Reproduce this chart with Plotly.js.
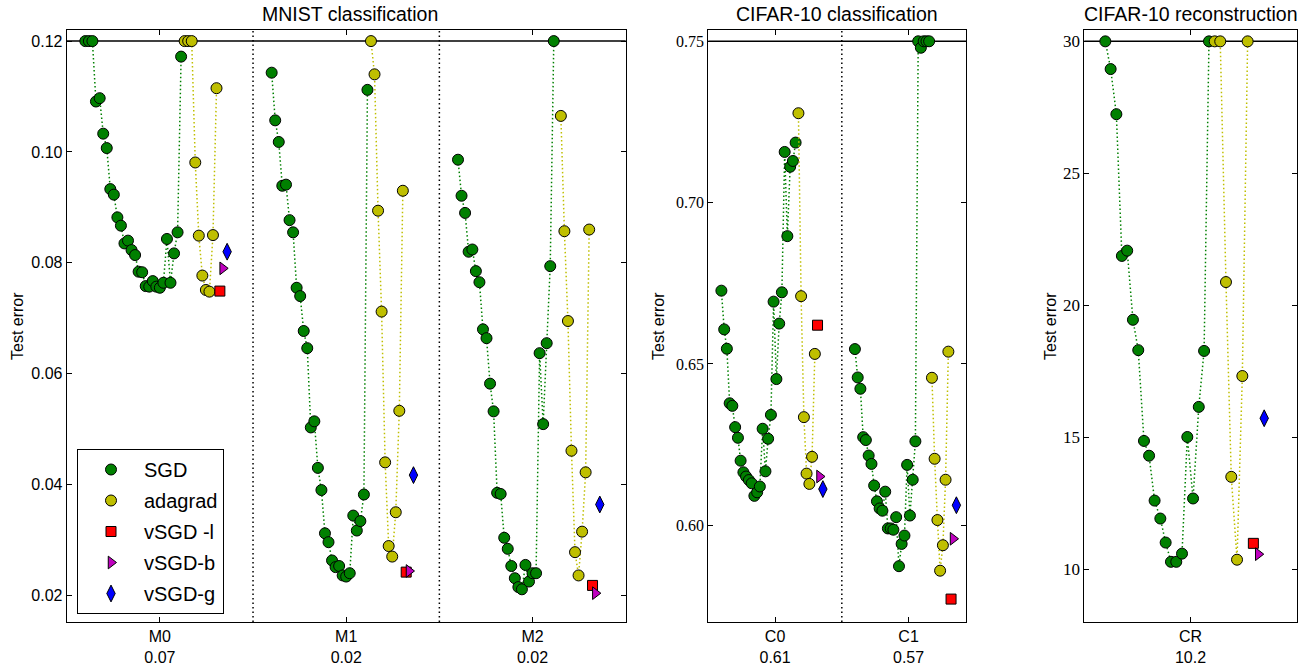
<!DOCTYPE html>
<html>
<head>
<meta charset="utf-8">
<script src="https://cdn.plot.ly/plotly-3.0.1.min.js"></script>
<style>html,body{margin:0;padding:0;background:#fff;}#chart{width:1315px;height:668px;}</style>
</head>
<body>
<div id="chart"></div>
<script>
// ---------------- DATA ----------------
// MNIST classification
const mnistGroups = ['M0', 'M1', 'M2'];
const mnistBest = ['0.07', '0.02', '0.02'];
const mnistSgdOffset = [-0.400, -0.381, -0.362, -0.343, -0.323, -0.304, -0.285, -0.266, -0.247, -0.228,
  -0.209, -0.190, -0.171, -0.152, -0.133, -0.114, -0.095, -0.076, -0.057, -0.038,
  -0.019, 0.000, 0.019, 0.038, 0.057, 0.076, 0.095, 0.114];
const mnistAdagradOffset = [0.133, 0.152, 0.171, 0.190, 0.209, 0.228, 0.247, 0.266, 0.285, 0.304];
const mnistVsgdOffset = [0.322, 0.337, 0.361];
const sgdM0 = [0.120, 0.120, 0.120, 0.1091, 0.1097, 0.1033, 0.1007, 0.0933, 0.0923, 0.0882,
  0.0867, 0.0835, 0.0840, 0.0823, 0.0814, 0.0784, 0.0783, 0.0758, 0.0757, 0.0767,
  0.0757, 0.0755, 0.0764, 0.0843, 0.0764, 0.0817, 0.0855, 0.1172];
const sgdM1 = [0.1143, 0.1057, 0.1018, 0.0939, 0.0941, 0.0877, 0.0855, 0.0755, 0.0740, 0.0677,
  0.0646, 0.0503, 0.0514, 0.0430, 0.0390, 0.0312, 0.0296, 0.0263, 0.0251, 0.0253,
  0.0236, 0.0234, 0.0240, 0.0344, 0.0317, 0.0334, 0.0382, 0.1112];
const sgdM2 = [0.0986, 0.0921, 0.0890, 0.0820, 0.0824, 0.0785, 0.0765, 0.0680, 0.0664, 0.0582,
  0.0532, 0.0385, 0.0383, 0.0304, 0.0284, 0.0253, 0.0231, 0.0215, 0.0211, 0.0255,
  0.0225, 0.0240, 0.0240, 0.0637, 0.0509, 0.0655, 0.0794, 0.120];
const adagradM0 = [0.120, 0.120, 0.120, 0.0981, 0.0849, 0.0777, 0.0751, 0.0748, 0.0850, 0.1115];
const adagradM1 = [0.120, 0.1140, 0.0894, 0.0712, 0.0440, 0.0289, 0.0270, 0.0350, 0.0533, 0.0930];
const adagradM2 = [null, 0.1065, 0.0857, 0.0695, 0.0461, 0.0278, 0.0236, 0.0315, 0.0422, 0.0860];
const vsgdL_M = [0.0749, 0.0242, 0.0218];
const vsgdB_M = [0.0790, 0.0244, 0.0204];
const vsgdG_M = [0.0820, 0.0417, 0.0364];

// CIFAR-10 classification
const cifarGroups = ['C0', 'C1'];
const cifarBest = ['0.61', '0.57'];
const cifarSgdOffset = [-0.402, -0.381, -0.361, -0.340, -0.320, -0.299, -0.278, -0.258, -0.237, -0.217,
  -0.196, -0.175, -0.155, -0.134, -0.114, -0.093, -0.072, -0.052, -0.031, -0.011,
  0.010, 0.031, 0.051, 0.072, 0.092, 0.113, 0.134, 0.154];
const cifarAdagradOffset = [0.175, 0.195, 0.216, 0.236, 0.257, 0.277, 0.298];
const cifarVsgdOffset = [0.318, 0.333, 0.358];
const sgdC0 = [0.6727, 0.6607, 0.6547, 0.6378, 0.6370, 0.6304, 0.6271, 0.6200, 0.6164, 0.6151,
  0.6140, 0.6130, 0.6091, 0.6102, 0.6120, 0.6299, 0.6167, 0.6268, 0.6342, 0.6693,
  0.6453, 0.6625, 0.6722, 0.7157, 0.6896, 0.7111, 0.7129, 0.7186];
const sgdC1 = [0.6546, 0.6458, 0.6423, 0.6273, 0.6264, 0.6216, 0.6190, 0.6123, 0.6074, 0.6052,
  0.6045, 0.6104, 0.5990, 0.5990, 0.5986, 0.6025, 0.5873, 0.5942, 0.5968, 0.6187,
  0.6030, 0.6141, 0.6260, 0.750, 0.748, 0.750, 0.750, 0.750];
const adagradC0 = [0.7277, 0.6710, 0.6335, 0.6160, 0.6128, 0.6212, 0.6531];
const adagradC1 = [0.6457, 0.6206, 0.6016, 0.5859, 0.5938, 0.6141, 0.6538];
const vsgdL_C = [0.6620, 0.5771];
const vsgdB_C = [0.6151, 0.5958];
const vsgdG_C = [0.6112, 0.6062];

// CIFAR-10 reconstruction
const reconGroups = ['CR'];
const reconBest = ['10.2'];
const reconSgdOffset = [-0.401, -0.376, -0.349, -0.323, -0.298, -0.271, -0.246, -0.219, -0.195, -0.169,
  -0.142, -0.117, -0.092, -0.067, -0.040, -0.015, 0.012, 0.039, 0.064, 0.087];
const reconAdagradOffset = [0.114, 0.140, 0.167, 0.192, 0.219, 0.244, 0.269];
const reconVsgdOffset = [0.296, 0.319, 0.347];
const sgdCR = [30, 28.95, 27.24, 21.87, 22.07, 19.45, 18.30, 14.86, 14.30, 12.60,
  11.92, 11.01, 10.28, 10.28, 10.59, 15.01, 12.68, 16.15, 18.27, 30];
const adagradCR = [30, 30, 20.88, 13.50, 10.36, 17.32, 30];
const vsgdL_R = [10.98];
const vsgdB_R = [10.57];
const vsgdG_R = [15.72];

const seriesNames = ['SGD', 'adagrad', 'vSGD -l', 'vSGD-b', 'vSGD-g'];

// ---------------- STYLE ----------------
const C_SGD = '#008000', C_ADA = '#bfbf00', C_L = '#ff0000', C_B = '#bf00bf', C_G = '#0000ff';
const DOT = '1.5px,2.5px';
const styles = {
  SGD: {color: C_SGD, symbol: 'circle', size: 11},
  adagrad: {color: C_ADA, symbol: 'circle', size: 11},
  L: {color: C_L, symbol: 'square', size: 10},
  B: {color: C_B, symbol: 'triangle-right', size: 11},
  G: {color: C_G, symbol: 'diamond-tall', size: 12}
};

const traces = [];
function lineSeries(xa, ya, g, offsets, values, st) {
  traces.push({
    type: 'scatter', mode: 'lines+markers', xaxis: xa, yaxis: ya,
    x: offsets.map(o => g + o), y: values, showlegend: false, cliponaxis: false,
    line: {color: st.color, width: 1.5, dash: DOT},
    marker: {color: st.color, symbol: st.symbol, size: st.size, line: {color: 'black', width: 1}},
    hoverinfo: 'x+y'
  });
}
function pointSeries(xa, ya, offset, values, st) {
  traces.push({
    type: 'scatter', mode: 'markers', xaxis: xa, yaxis: ya,
    x: values.map((v, i) => i + offset), y: values, showlegend: false, cliponaxis: false,
    marker: {color: st.color, symbol: st.symbol, size: st.size, line: {color: 'black', width: 1}}
  });
}

// MNIST
[sgdM0, sgdM1, sgdM2].forEach((v, g) => lineSeries('x', 'y', g, mnistSgdOffset, v, styles.SGD));
[adagradM0, adagradM1, adagradM2].forEach((v, g) => lineSeries('x', 'y', g, mnistAdagradOffset, v, styles.adagrad));
pointSeries('x', 'y', mnistVsgdOffset[0], vsgdL_M, styles.L);
pointSeries('x', 'y', mnistVsgdOffset[1], vsgdB_M, styles.B);
pointSeries('x', 'y', mnistVsgdOffset[2], vsgdG_M, styles.G);
// CIFAR classification
[sgdC0, sgdC1].forEach((v, g) => lineSeries('x2', 'y2', g, cifarSgdOffset, v, styles.SGD));
[adagradC0, adagradC1].forEach((v, g) => lineSeries('x2', 'y2', g, cifarAdagradOffset, v, styles.adagrad));
pointSeries('x2', 'y2', cifarVsgdOffset[0], vsgdL_C, styles.L);
pointSeries('x2', 'y2', cifarVsgdOffset[1], vsgdB_C, styles.B);
pointSeries('x2', 'y2', cifarVsgdOffset[2], vsgdG_C, styles.G);
// CIFAR reconstruction
lineSeries('x3', 'y3', 0, reconSgdOffset, sgdCR, styles.SGD);
lineSeries('x3', 'y3', 0, reconAdagradOffset, adagradCR, styles.adagrad);
pointSeries('x3', 'y3', reconVsgdOffset[0], vsgdL_R, styles.L);
pointSeries('x3', 'y3', reconVsgdOffset[1], vsgdB_R, styles.B);
pointSeries('x3', 'y3', reconVsgdOffset[2], vsgdG_R, styles.G);

// legend entries (markers only, like the reference key)
[styles.SGD, styles.adagrad, styles.L, styles.B, styles.G].forEach((st, i) => {
  traces.push({
    type: 'scatter', mode: 'markers', xaxis: 'x', yaxis: 'y', x: [null], y: [null],
    name: seriesNames[i], legendgroup: 'g' + i, showlegend: true,
    marker: {color: st.color, symbol: st.symbol, size: st.size, line: {color: 'black', width: 1}}
  });
});

// ---------------- LAYOUT ----------------
const W = 1315, H = 668;
const px = v => v / W, py = v => 1 - v / H;
const yDom = [py(622), py(30)];
const sans = 'Liberation Sans, Arial, sans-serif';
const serif = 'Liberation Serif, Times New Roman, serif';

function xAxis(dom, range, groups, best) {
  return {
    domain: dom, range: range, showline: true, linecolor: 'black', linewidth: 1,
    mirror: 'allticks', ticks: 'inside', ticklen: 5, tickcolor: 'black',
    showgrid: false, zeroline: false, fixedrange: true,
    tickmode: 'array', tickvals: groups.map((_, i) => i),
    ticktext: groups.map((g, i) => g + '<br>' + best[i]),
    tickfont: {family: sans, size: 16, color: 'black'}
  };
}
function yAxis(anchor, range, tickvals, fmt, font) {
  return {
    domain: yDom, anchor: anchor, range: range, showline: true, linecolor: 'black', linewidth: 1,
    mirror: 'allticks', ticks: 'inside', ticklen: 5, tickcolor: 'black',
    showgrid: false, zeroline: false, fixedrange: true,
    tickmode: 'array', tickvals: tickvals, ticktext: tickvals.map(fmt),
    tickfont: font
  };
}

const layout = {
  width: W, height: H, margin: {l: 0, r: 0, t: 0, b: 0},
  paper_bgcolor: 'white', plot_bgcolor: 'white',
  font: {family: sans, color: 'black'},
  xaxis: xAxis([px(66.7), px(625.7)], [-0.5, 2.5], mnistGroups, mnistBest),
  yaxis: yAxis('x', [0.0152, 0.1220], [0.02, 0.04, 0.06, 0.08, 0.10, 0.12], v => v.toFixed(2),
    {family: sans, size: 16, color: 'black'}),
  xaxis2: Object.assign(xAxis([px(708.3), px(966)], [-0.5, 1.43], cifarGroups, cifarBest), {anchor: 'y2'}),
  yaxis2: yAxis('x2', [0.570, 0.7535], [0.60, 0.65, 0.70, 0.75], v => v.toFixed(2),
    {family: serif, size: 16, color: 'black'}),
  xaxis3: Object.assign(xAxis([px(1084.3), px(1296.7)], [-0.5, 0.5], reconGroups, reconBest), {anchor: 'y3'}),
  yaxis3: yAxis('x3', [8.0, 30.43], [10, 15, 20, 25, 30], v => String(v),
    {family: serif, size: 17, color: 'black'}),
  showlegend: true,
  legend: {
    x: px(77), y: py(449), xanchor: 'left', yanchor: 'top',
    bgcolor: 'white', bordercolor: 'black', borderwidth: 1,
    font: {family: sans, size: 20, color: 'black'},
    traceorder: 'grouped', tracegroupgap: 2, itemwidth: 56
  },
  shapes: [
    {type: 'line', xref: 'x domain', yref: 'y', x0: 0, x1: 1, y0: 0.12, y1: 0.12, layer: 'below', line: {color: 'black', width: 1.5}},
    {type: 'line', xref: 'x2 domain', yref: 'y2', x0: 0, x1: 1, y0: 0.75, y1: 0.75, layer: 'below', line: {color: 'black', width: 1.5}},
    {type: 'line', xref: 'x3 domain', yref: 'y3', x0: 0, x1: 1, y0: 30, y1: 30, layer: 'below', line: {color: 'black', width: 1.5}},
    {type: 'line', xref: 'x', yref: 'y domain', x0: 0.5, x1: 0.5, y0: 0, y1: 1, layer: 'below', line: {color: 'black', width: 1.5, dash: '1.5px,3px'}},
    {type: 'line', xref: 'x', yref: 'y domain', x0: 1.5, x1: 1.5, y0: 0, y1: 1, layer: 'below', line: {color: 'black', width: 1.5, dash: '1.5px,3px'}},
    {type: 'line', xref: 'x2', yref: 'y2 domain', x0: 0.5, x1: 0.5, y0: 0, y1: 1, layer: 'below', line: {color: 'black', width: 1.5, dash: '1.5px,3px'}}
  ],
  annotations: [
    {text: 'MNIST classification', xref: 'paper', yref: 'paper', x: px(350), y: py(30), xanchor: 'center', yanchor: 'bottom', yshift: 3, showarrow: false, font: {family: sans, size: 19.5}},
    {text: 'CIFAR-10 classification', xref: 'paper', yref: 'paper', x: px(837.2), y: py(30), xanchor: 'center', yanchor: 'bottom', yshift: 3, showarrow: false, font: {family: sans, size: 19.5}},
    {text: 'CIFAR-10 reconstruction', xref: 'paper', yref: 'paper', x: px(1190.5), y: py(30), xanchor: 'center', yanchor: 'bottom', yshift: 3, showarrow: false, font: {family: sans, size: 19.5}},
    {text: 'Test error', xref: 'paper', yref: 'paper', x: px(17), y: py(326), xanchor: 'center', yanchor: 'middle', textangle: -90, showarrow: false, font: {family: sans, size: 16}},
    {text: 'Test error', xref: 'paper', yref: 'paper', x: px(658), y: py(326), xanchor: 'center', yanchor: 'middle', textangle: -90, showarrow: false, font: {family: sans, size: 16}},
    {text: 'Test error', xref: 'paper', yref: 'paper', x: px(1050), y: py(326), xanchor: 'center', yanchor: 'middle', textangle: -90, showarrow: false, font: {family: sans, size: 16}}
  ]
};

Plotly.newPlot('chart', traces, layout, {displayModeBar: false, staticPlot: true});
</script>
</body>
</html>
